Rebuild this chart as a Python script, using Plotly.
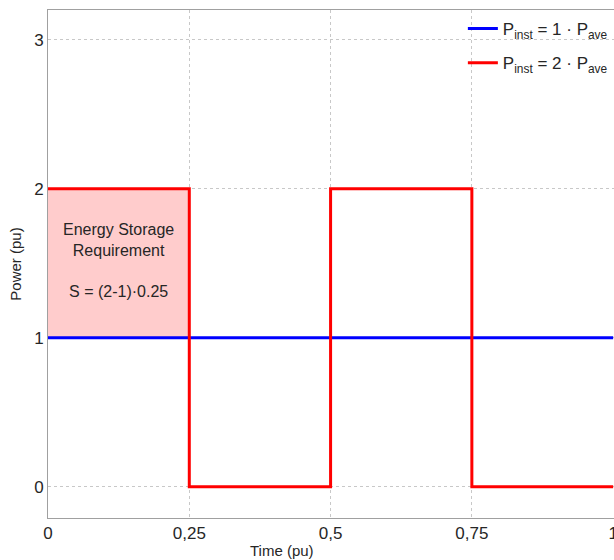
import plotly.graph_objects as go

# Data
time_red = [0, 0.25, 0.25, 0.5, 0.5, 0.75, 0.75, 1.0]
power_red = [2, 2, 0, 0, 2, 2, 0, 0]
time_blue = [0, 1.0]
power_blue = [1, 1]
storage_x = [0, 0.25, 0.25, 0, 0]
storage_y = [1, 1, 2, 2, 1]
x_ticks = [0, 0.25, 0.5, 0.75, 1]
x_ticklabels = ["0", "0,25", "0,5", "0,75", "1"]
y_ticks = [0, 1, 2, 3]
annotation_text = "Energy Storage<br>Requirement<br> <br>S = (2-1)·0.25"

FONT = "Liberation Sans, Arial, sans-serif"
TXT = "#262626"

fig = go.Figure()
fig.add_trace(go.Scatter(x=storage_x, y=storage_y, fill="toself", fillcolor="#ffcccc",
                         line=dict(width=0), mode="lines", showlegend=False, hoverinfo="skip"))
fig.add_trace(go.Scatter(x=time_blue, y=power_blue, mode="lines",
                         line=dict(color="#0000ff", width=3), legendgroup="a",
                         name="P<sub>inst</sub> = 1 · P<sub>ave</sub>"))
fig.add_trace(go.Scatter(x=time_red, y=power_red, mode="lines",
                         line=dict(color="#ff0000", width=3), legendgroup="b",
                         name="P<sub>inst</sub> = 2 · P<sub>ave</sub>"))

fig.add_annotation(x=0.125, y=1.52, xref="x", yref="y", text=annotation_text,
                   showarrow=False, font=dict(family=FONT, size=16, color=TXT),
                   align="center")
fig.add_annotation(x=(282 - 48) / 566, y=0, xref="paper", yref="paper", yanchor="top",
                   yshift=-22, text="Time (pu)", showarrow=False,
                   font=dict(family=FONT, size=15, color=TXT))

axis_common = dict(showline=True, linecolor="#a0a0a0", linewidth=1, mirror=True,
                   showgrid=True, gridcolor="#c8c8c8", griddash="dot", gridwidth=1,
                   zeroline=False, ticks="", automargin=False,
                   tickfont=dict(family=FONT, size=17, color=TXT))

fig.update_xaxes(range=[0, 1.0015], tickvals=x_ticks, ticktext=x_ticklabels,
                 ticklabeloverflow="allow", **axis_common)
fig.update_yaxes(range=[-0.21, 3.2], tickvals=y_ticks,
                 title=dict(text="Power (pu)", font=dict(family=FONT, size=15, color=TXT), standoff=8),
                 **axis_common)

fig.update_layout(width=614, height=560, margin=dict(l=48, r=0, t=10, b=42),
                  plot_bgcolor="white", paper_bgcolor="white",
                  font=dict(family=FONT, color=TXT),
                  legend=dict(x=0.998, y=0.998, xanchor="right", yanchor="top",
                              bgcolor="rgba(255,255,255,0)", font=dict(family=FONT, size=17, color=TXT),
                              itemwidth=30, tracegroupgap=9))

fig.write_html("out.html")
